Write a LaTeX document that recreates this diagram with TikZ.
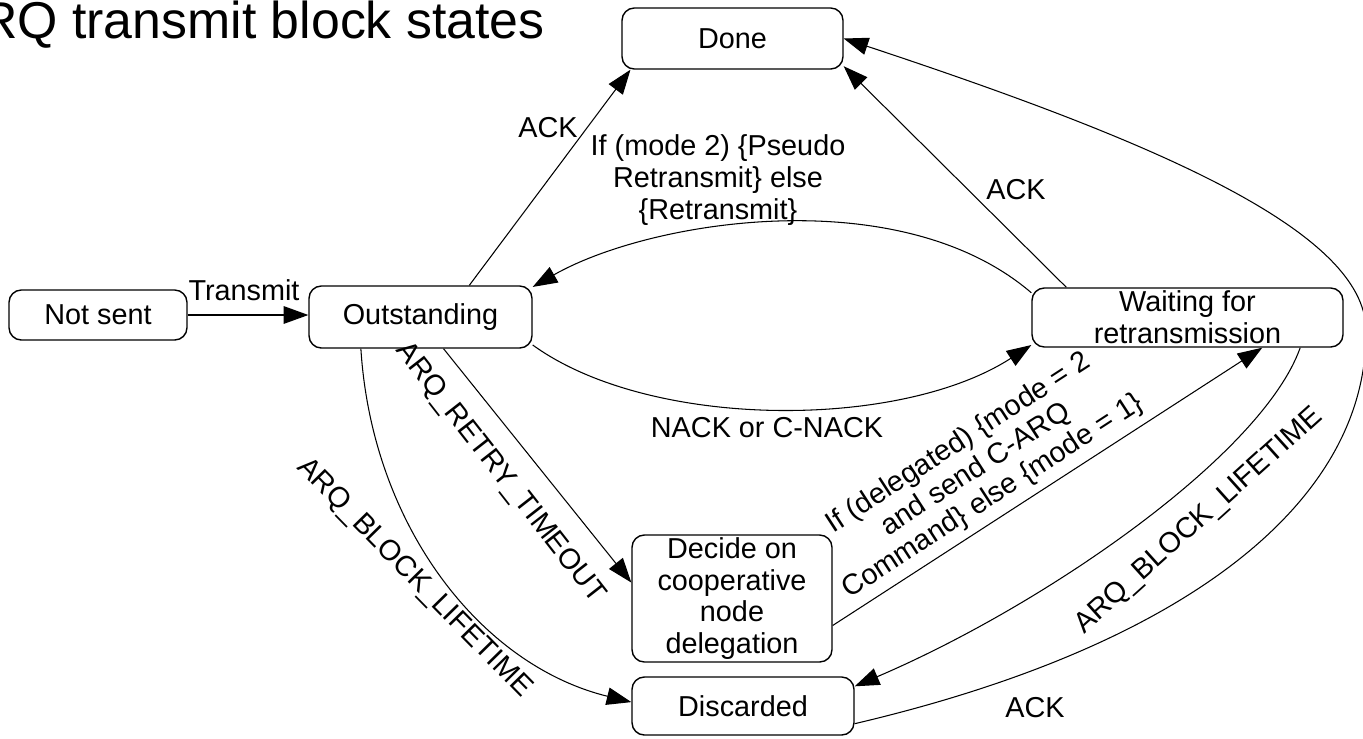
\documentclass[tikz,border=0pt]{standalone}
\usepackage{fontspec}
\setmainfont{Liberation Sans}
\usetikzlibrary{arrows.meta}
\begin{document}
\begin{tikzpicture}[x=0.02cm,y=-0.02cm,
  fs/.style={font=\fontsize{16.4}{18}\selectfont},
  state/.style={draw, rounded corners=7pt, line width=0.8pt, align=center, inner sep=0pt, fs},
  lbl/.style={inner sep=0pt, align=center, fs},
  tr/.style={-{Triangle[length=14pt,width=10pt]}, line width=0.6pt}]
\useasboundingbox (0,0) rectangle (1363,738);
\node[anchor=base east, inner sep=0pt, font=\fontsize{29.5}{32}\selectfont] (title) at (545,38) {ARQ transmit block states};
\node[state, minimum width=4.42cm, minimum height=1.22cm] (done) at (732.5,38.5) {Done};
\node[state, minimum width=3.56cm, minimum height=1.0cm] (notsent) at (98,315) {Not sent};
\node[state, minimum width=4.46cm, minimum height=1.24cm] (outst) at (420.5,317) {Outstanding};
\node[state, minimum width=6.22cm, minimum height=1.18cm] (waiting) at (1187.5,317.5) {Waiting for\\retransmission};
\node[state, minimum width=4.0cm, minimum height=2.54cm] (decide) at (732,598.5) {Decide on\\cooperative\\node\\delegation};
\node[state, minimum width=4.44cm, minimum height=1.16cm] (discarded) at (743,706) {Discarded};

\draw[tr] (notsent.east) -- (notsent.east -| outst.west);
\draw[tr] (outst.33) -- (done.197);
\draw[tr] (waiting.171) .. controls (900,180) and (650,220) .. (outst.15);
\draw[tr] (outst.-14) .. controls (650,430) and (900,430) .. (waiting.190);
\draw[tr] (outst.-54) -- (decide.171);
\draw[tr] (outst.208) .. controls (372,525) and (480,665) .. (discarded.178);
\draw[tr] (decide.-15) -- (waiting.-22);
\draw[tr] (waiting.-15) .. controls (1262,455) and (1045,605) .. (discarded.10);
\draw[tr] (discarded.-9) .. controls (1190,645) and (1368,500) .. (1366,330) .. controls (1365,230) and (1150,140) .. (done.east);
\draw[tr] (waiting.166) -- (done.-14);

\node[lbl] (l1) at (244,290) {Transmit};
\node[lbl] (l2) at (548,128) {ACK};
\node[lbl] (l3) at (718,180) {If (mode 2) \{Pseudo\\Retransmit\} else\\\{Retransmit\}};
\node[lbl] (l4) at (1016,190) {ACK};
\node[lbl] (l5) at (767,428) {NACK or C-NACK};
\node[lbl, rotate=-52] (l6) at (500,473) {ARQ\_RETRY\_TIMEOUT};
\node[lbl, rotate=-45.5] (l7) at (414,578) {ARQ\_BLOCK\_LIFETIME};
\node[lbl, rotate=33] (l8) at (976,470) {If (delegated) \{mode = 2\\and send C-ARQ\\Command\} else \{mode = 1\}};
\node[lbl, rotate=42] (l9) at (1199,521) {ARQ\_BLOCK\_LIFETIME};
\node[lbl] (l10) at (1035,708) {ACK};
\end{tikzpicture}
\end{document}
